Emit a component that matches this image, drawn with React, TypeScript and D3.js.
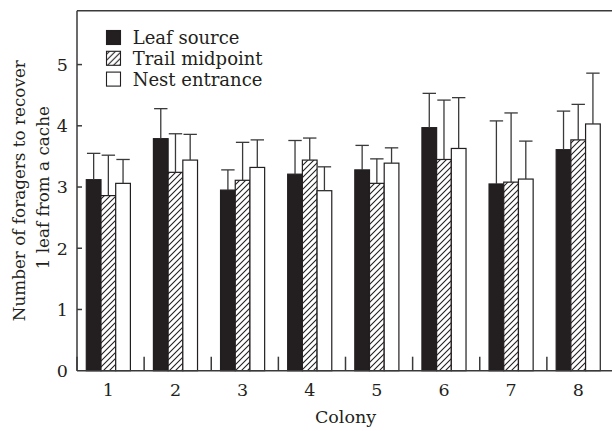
import React from "react";
import * as d3 from "d3";

// colonies on the x axis
const colonies = ["1", "2", "3", "4", "5", "6", "7", "8"];
const seriesNames = ["Leaf source", "Trail midpoint", "Nest entrance"];

// means
const leafSource = [3.12, 3.79, 2.95, 3.21, 3.28, 3.97, 3.05, 3.61];
const trailMidpoint = [2.86, 3.24, 3.11, 3.44, 3.06, 3.45, 3.08, 3.77];
const nestEntrance = [3.06, 3.44, 3.32, 2.94, 3.39, 3.63, 3.13, 4.03];

// top of the error bars
const leafSourceErr = [3.55, 4.28, 3.28, 3.76, 3.68, 4.53, 4.08, 4.24];
const trailMidpointErr = [3.52, 3.87, 3.73, 3.8, 3.46, 4.42, 4.21, 4.35];
const nestEntranceErr = [3.45, 3.86, 3.77, 3.33, 3.64, 4.46, 3.75, 4.86];

const yTicks = [0, 1, 2, 3, 4, 5];

const means = [leafSource, trailMidpoint, nestEntrance];
const errs = [leafSourceErr, trailMidpointErr, nestEntranceErr];

const font = "'DejaVu Serif', serif";
const ink = "#231f20";
const fills = [ink, "url(#hatch)", "#fff"];

export default function App() {
  const left = 77,
    right = 614,
    top = 10.7,
    bottom = 370.7;

  const y = d3.scaleLinear().domain([0, 5.88]).range([bottom, top]);
  const x = d3.scaleBand().domain(colonies).range([left, right]);
  const xs = d3.scaleBand().domain(seriesNames).range([9.3, 9.3 + 44.1]);

  const bars = [];
  const errors = [];
  colonies.forEach((c, i) => {
    seriesNames.forEach((s, j) => {
      const x0 = x(c) + xs(s);
      const w = xs.bandwidth();
      const v = means[j][i];
      bars.push(
        <rect
          key={`b${i}${j}`}
          x={x0}
          y={y(v)}
          width={w}
          height={y(0) - y(v)}
          fill={fills[j]}
          stroke={ink}
          strokeWidth={1.2}
        />
      );
      const cx = x0 + w / 2;
      const e = errs[j][i];
      errors.push(
        <g key={`e${i}${j}`} stroke="#3a3a3a" strokeWidth={1.3}>
          <line x1={cx} x2={cx} y1={y(v)} y2={y(e)} />
          <line x1={cx - 6.7} x2={cx + 6.7} y1={y(e)} y2={y(e)} />
        </g>
      );
    });
  });

  const boundaries = colonies.map((c) => x(c));

  return (
    <svg
      width={612}
      height={431}
      style={{ position: "absolute", left: 0, top: 0, background: "#fff" }}
    >
      <defs>
        <pattern id="hatch" patternUnits="userSpaceOnUse" width={6} height={6}>
          <rect width={6} height={6} fill="#fff" />
          <path
            d="M0,6 L6,0 M-1.5,1.5 L1.5,-1.5 M4.5,7.5 L7.5,4.5"
            stroke={ink}
            strokeWidth={1.1}
          />
        </pattern>
      </defs>

      {bars}
      {errors}

      {/* frame */}
      <g stroke="#3a3a3a" strokeWidth={1.5} fill="none">
        <line x1={left} x2={left} y1={top} y2={bottom} />
        <line x1={left} x2={612} y1={bottom} y2={bottom} />
        <line x1={left} x2={612} y1={top} y2={top} />
        {yTicks.slice(1).map((t) => (
          <line key={t} x1={left} x2={left + 5} y1={y(t)} y2={y(t)} />
        ))}
        {boundaries.map((b, i) => (
          <line key={i} x1={b} x2={b} y1={bottom} y2={bottom - 14} />
        ))}
      </g>

      <g fontFamily={font} fontSize={17.5} fill={ink}>
        {yTicks.map((t) => (
          <text key={t} x={68} y={y(t)} dy="0.36em" textAnchor="end">
            {t}
          </text>
        ))}
        {colonies.map((c) => (
          <text
            key={c}
            x={x(c) + xs(seriesNames[1]) + xs.bandwidth() / 2}
            y={396}
            textAnchor="middle"
          >
            {c}
          </text>
        ))}
        <text x={(left + right) / 2} y={423} textAnchor="middle">
          Colony
        </text>
        <g fontSize={16.8}>
          <text transform={`translate(25,${(top + bottom) / 2}) rotate(-90)`} textAnchor="middle">
            Number of foragers to recover
          </text>
          <text transform={`translate(49,${(top + bottom) / 2 - 3}) rotate(-90)`} textAnchor="middle">
            1 leaf from a cache
          </text>
        </g>

        {seriesNames.map((s, j) => (
          <g key={s} transform={`translate(0,${44 + j * 20.8})`} fontSize={18}>
            <rect
              x={106.5}
              y={-13.5}
              width={14}
              height={14}
              fill={fills[j]}
              stroke={ink}
              strokeWidth={1.1}
            />
            <text x={132.7} y={0}>
              {s}
            </text>
          </g>
        ))}
      </g>
    </svg>
  );
}
